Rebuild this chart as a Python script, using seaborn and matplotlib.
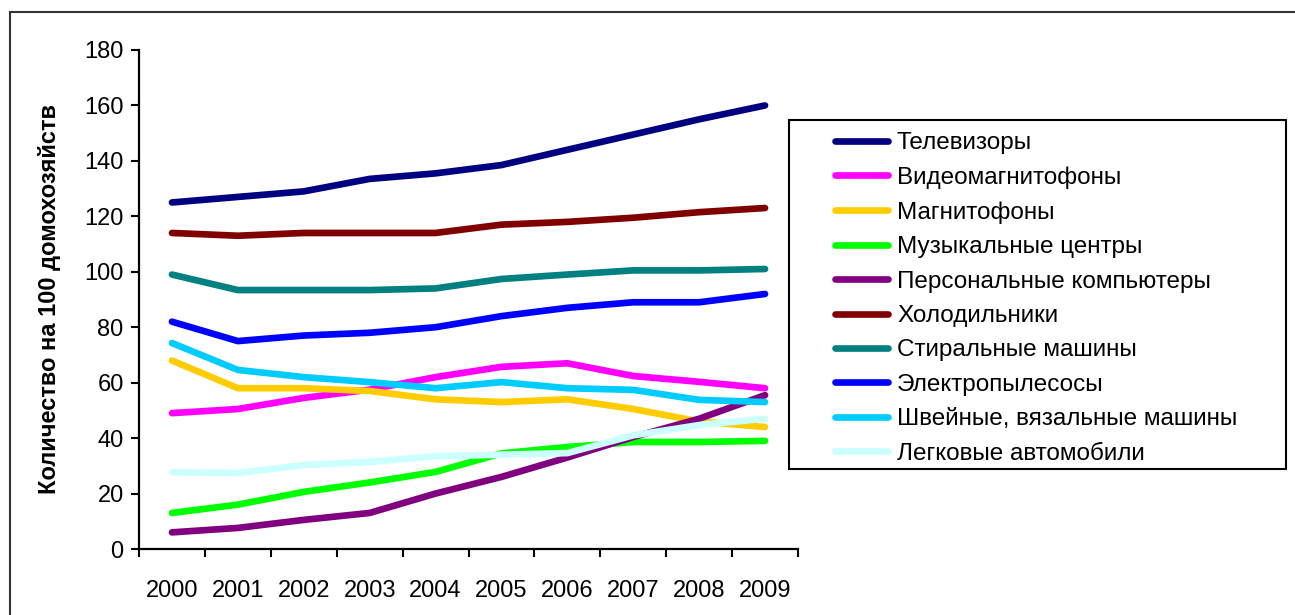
import numpy as np
import pandas as pd
import matplotlib
matplotlib.use("Agg")
import matplotlib.pyplot as plt
from matplotlib.patches import Rectangle
from matplotlib.ticker import FixedLocator
import seaborn as sns

years = ["2000", "2001", "2002", "2003", "2004", "2005", "2006", "2007", "2008", "2009"]

tv = [125, 127, 129, 133.5, 135.5, 138.5, 144, 149.5, 155, 160]
video = [49, 50.5, 54.5, 57.5, 62, 65.7, 67, 62.4, 60.3, 58]
tape = [68, 58, 58, 57, 54, 53, 54, 50.5, 46, 44]
music = [13, 16, 20.6, 24, 27.8, 34.5, 36.8, 38.6, 38.6, 39]
pc = [6, 7.6, 10.5, 13, 20, 26, 33, 40.4, 47, 55.5]
fridge = [114, 113, 114, 114, 114, 117, 118, 119.5, 121.5, 123]
washer = [99, 93.4, 93.4, 93.4, 94, 97.4, 99, 100.5, 100.5, 101]
vacuum = [82, 75, 77, 78, 80, 84, 87, 89, 89, 92]
sewing = [74.3, 64.6, 62, 60.2, 58, 60.2, 58, 57.4, 53.8, 53]
cars = [27.7, 27.4, 30.3, 31.4, 33.5, 34, 34.6, 41, 44.7, 47]

names = ["Телевизоры", "Видеомагнитофоны", "Магнитофоны", "Музыкальные центры",
         "Персональные компьютеры", "Холодильники", "Стиральные машины",
         "Электропылесосы", "Швейные, вязальные машины", "Легковые автомобили"]
colors = ["#000080", "#FF00FF", "#FFCC00", "#00FF00", "#800080",
          "#800000", "#008080", "#0000FF", "#00CCFF", "#CCFFFF"]
series = [tv, video, tape, music, pc, fridge, washer, vacuum, sewing, cars]

rows = []
for name, vals in zip(names, series):
    for i, v in enumerate(vals):
        rows.append({"pos": i, "item": name, "value": v})
df = pd.DataFrame(rows)

sns.set_style("white", {"text.color": "black", "axes.labelcolor": "black",
                        "xtick.color": "black", "ytick.color": "black"})
plt.rcParams["font.family"] = ["Liberation Sans", "DejaVu Sans"]

fig = plt.figure(figsize=(12.95, 6.15), dpi=100)
ax = fig.add_axes([139 / 1295, 66 / 615, 659 / 1295, 499 / 615])

sns.lineplot(data=df, x="pos", y="value", hue="item", hue_order=names,
             palette=dict(zip(names, colors)), linewidth=4.8,
             solid_capstyle="round", ax=ax, legend=False)

ax.set_xlim(-0.5, 9.5)
ax.set_ylim(0, 180)
ax.set_yticks(np.arange(0, 181, 20))
ax.set_xticks(range(len(years)))
ax.set_xticklabels(years)
ax.xaxis.set_minor_locator(FixedLocator(np.arange(-0.5, 10, 1)))
ax.tick_params(axis="x", which="major", length=0, pad=22, labelsize=17)
ax.tick_params(axis="x", which="minor", length=6, width=1.5, direction="out", bottom=True)
ax.tick_params(axis="y", length=6, width=1.5, direction="out", left=True, pad=5, labelsize=17)
ax.set_xlabel("")
ax.set_ylabel("Количество на 100 домохозяйств", fontsize=17, fontweight="bold")
ax.yaxis.set_label_coords(-0.119, 0.5)
for s in ["top", "right"]:
    ax.spines[s].set_visible(False)
for s in ["left", "bottom"]:
    ax.spines[s].set_color("black")
    ax.spines[s].set_linewidth(1.6)

handles = [plt.Line2D([], [], color=c, linewidth=4.8, solid_capstyle="round") for c in colors]
fig.legend(handles, names, loc="upper left", bbox_to_anchor=(835 / 1295, 1 - 132 / 615),
           frameon=False, fontsize=17.5, handlelength=2.2, handletextpad=0.35,
           labelspacing=0.51, borderpad=0, borderaxespad=0)

fig.patches.append(Rectangle((789 / 1295, 1 - 469 / 615), 497 / 1295, 349 / 615,
                             transform=fig.transFigure, fill=False,
                             edgecolor="black", linewidth=1.5))
fig.patches.append(Rectangle((10 / 1295, -0.05), 1.1, 1 - 12 / 615 + 0.05,
                             transform=fig.transFigure, fill=False,
                             edgecolor="#333333", linewidth=1.5))

fig.savefig("out.png", dpi=100)
